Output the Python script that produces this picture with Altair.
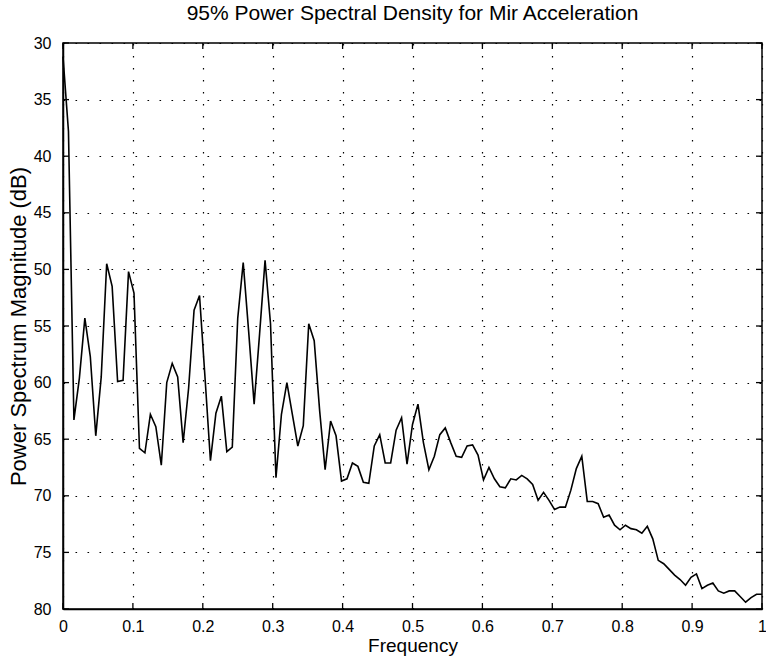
import altair as alt
import pandas as pd
import numpy as np

# Power spectrum magnitude (dB), 129 bins from 0 to 1 (normalized frequency)
psd_db = [
    31.2, 37.8, 63.3, 59.6, 54.3, 57.7, 64.7, 59.5, 49.5, 51.5,
    59.9, 59.8, 50.2, 52.1, 65.8, 66.2, 62.8, 63.9, 67.3, 60.0,
    58.3, 59.5, 65.3, 60.5, 53.6, 52.3, 59.5, 66.9, 62.7, 61.2,
    66.1, 65.7, 54.3, 49.4, 55.5, 61.9, 55.7, 49.2, 54.8, 68.4,
    62.8, 60.0, 62.8, 65.6, 63.8, 54.8, 56.3, 62.5, 67.7, 63.4,
    64.7, 68.7, 68.5, 67.1, 67.4, 68.8, 68.9, 65.6, 64.6, 67.1,
    67.1, 64.2, 63.1, 67.2, 63.7, 61.9, 65.3, 67.7, 66.5, 64.6,
    64.0, 65.3, 66.5, 66.6, 65.6, 65.5, 66.4, 68.6, 67.5, 68.5,
    69.2, 69.3, 68.5, 68.6, 68.2, 68.5, 69.0, 70.4, 69.7, 70.4,
    71.2, 71.0, 71.0, 69.5, 67.6, 66.5, 70.5, 70.5, 70.7, 71.9,
    71.7, 72.6, 73.0, 72.6, 72.9, 73.0, 73.3, 72.7, 73.8, 75.7,
    76.0, 76.5, 77.0, 77.4, 77.9, 77.2, 76.9, 78.2, 77.9, 77.7,
    78.4, 78.6, 78.4, 78.4, 78.9, 79.4, 79.0, 78.7, 78.7,
]
freq = list(np.linspace(0.0, 1.0, len(psd_db)))

x_ticks = [0, 0.1, 0.2, 0.3, 0.4, 0.5, 0.6, 0.7, 0.8, 0.9, 1.0]
y_ticks = [30, 35, 40, 45, 50, 55, 60, 65, 70, 75, 80]

title_text = "95% Power Spectral Density for Mir Acceleration"
x_title = "Frequency"
y_title = "Power Spectrum Magnitude (dB)"

df = pd.DataFrame({"f": freq, "p": psd_db})
xt = pd.DataFrame({"f": x_ticks})
yt = pd.DataFrame({"p": y_ticks})

W, H = 699, 566
FONT = "Liberation Sans"

xscale = alt.Scale(domain=[0, 1], nice=False, zero=False)
yscale = alt.Scale(domain=[30, 80], nice=False, zero=False, reverse=True)

common_axis = dict(grid=True, gridColor="black", gridDash=[1.6, 10.4], gridWidth=1.2,
                   gridOpacity=1, tickSize=0, labelFontSize=16,
                   labelColor="black", titleColor="black", labelFont=FONT,
                   titleFont=FONT, titleFontWeight="normal", labelFlush=False,
                   domainColor="black", domainWidth=1.5)
xaxis = alt.Axis(values=x_ticks, format="~g", labelPadding=9, titlePadding=2,
                 titleFontSize=19, **common_axis)
yaxis = alt.Axis(values=y_ticks, labelPadding=12, titlePadding=3,
                 titleFontSize=22, **common_axis)

X = alt.X("f:Q", scale=xscale, title=x_title, axis=xaxis)
Y = alt.Y("p:Q", scale=yscale, title=y_title, axis=yaxis)

line = alt.Chart(df).mark_line(color="black", strokeWidth=1.6).encode(x=X, y=Y)

tick_bottom = alt.Chart(xt).mark_rule(color="black", strokeWidth=1.3).encode(
    x=X, y=alt.value(H), y2=alt.value(H - 6))
tick_top = alt.Chart(xt).mark_rule(color="black", strokeWidth=1.3).encode(
    x=X, y=alt.value(0), y2=alt.value(6))
tick_left = alt.Chart(yt).mark_rule(color="black", strokeWidth=1.3).encode(
    y=Y, x=alt.value(0), x2=alt.value(6))
tick_right = alt.Chart(yt).mark_rule(color="black", strokeWidth=1.3).encode(
    y=Y, x=alt.value(W), x2=alt.value(W - 6))

chart = alt.layer(line, tick_bottom, tick_top, tick_left, tick_right).properties(
    width=W, height=H,
    background="white",
    title=alt.TitleParams(title_text, fontSize=21, font=FONT, fontWeight="normal",
                          color="black", anchor="middle", offset=11),
    autosize=alt.AutoSizeParams(type="none"),
    padding={"left": 63, "top": 43, "right": 4, "bottom": 48},
).configure_view(stroke="black", strokeWidth=1.5)

chart.save("out.html", embed_options={"renderer": "svg", "actions": False})
